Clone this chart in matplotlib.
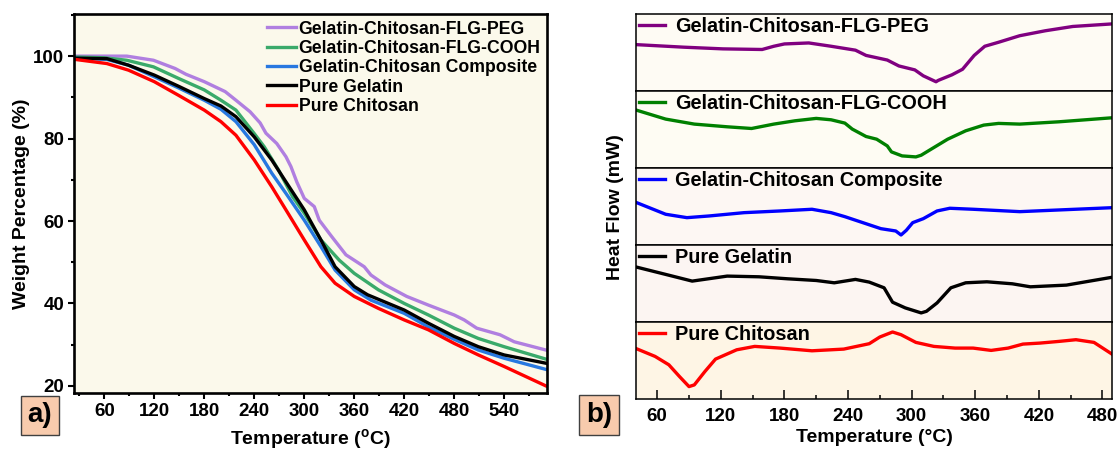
import numpy as np
import matplotlib.pyplot as plt
from matplotlib.ticker import MultipleLocator

plt.rcParams['font.family'] = ['Liberation Sans', 'DejaVu Sans']
plt.rcParams['font.weight'] = 'bold'
plt.rcParams['axes.labelweight'] = 'bold'
plt.rcParams['mathtext.fontset'] = 'custom'
plt.rcParams['mathtext.rm'] = 'Liberation Sans:bold'
plt.rcParams['mathtext.bf'] = 'Liberation Sans:bold'

# ---- panel a : TGA ----
peg_t = [25, 60, 87, 119, 145, 158, 180, 205, 218, 235, 247, 254, 267, 278, 284, 291, 300,
         312, 318, 333, 350, 372, 380, 397, 423, 449, 480, 492, 507, 535, 552, 590]
peg_w = [100, 100, 100, 99.0, 97.0, 95.6, 93.8, 91.4, 89.3, 86.5, 83.8, 81.3, 78.8, 75.6, 73.2, 69.5, 65.5,
         63.5, 60.2, 56.2, 51.8, 48.9, 46.9, 44.5, 41.7, 39.6, 37.2, 36.0, 34.0, 32.4, 30.7, 28.7]

cooh_t = [25, 60, 87, 119, 149, 180, 200, 218, 240, 252, 269, 286, 300, 320, 342, 360, 389,
          420, 449, 480, 509, 540, 590]
cooh_w = [99.8, 99.6, 99.0, 97.4, 94.6, 91.8, 89.3, 86.9, 81.2, 78.0, 72.4, 65.9, 61.9, 55.4, 50.5, 47.3, 43.3,
          40.0, 37.2, 34.0, 31.5, 29.5, 26.5]

comp_t = [25, 63, 89, 120, 149, 180, 200, 218, 240, 261, 278, 300, 320, 337, 360, 380,
          420, 449, 480, 509, 540, 590]
comp_w = [99.5, 99.2, 97.8, 95.0, 92.3, 89.3, 87.1, 84.1, 78.5, 71.6, 66.7, 60.2, 53.8, 48.1, 43.3, 40.8,
          37.6, 34.3, 31.3, 28.7, 26.7, 24.0]

gel_t = [25, 63, 89, 120, 149, 180, 200, 218, 240, 261, 278, 300, 320, 337, 360, 376,
         420, 449, 480, 509, 540, 590]
gel_w = [99.5, 99.4, 97.8, 95.4, 92.7, 89.7, 87.9, 85.3, 80.4, 74.8, 69.5, 62.7, 55.4, 48.9, 44.1, 42.1,
         38.4, 35.2, 32.0, 29.5, 27.5, 25.5]

chi_t = [25, 63, 89, 120, 149, 180, 200, 218, 240, 261, 278, 300, 320, 337, 360, 389,
         420, 449, 480, 509, 540, 590]
chi_w = [99.2, 98.2, 96.6, 93.8, 90.5, 86.9, 84.1, 80.8, 74.8, 68.3, 62.7, 55.4, 48.9, 44.9, 41.7, 38.8,
         36.0, 33.6, 30.3, 27.5, 24.7, 20.0]

tga_labels = ['Gelatin-Chitosan-FLG-PEG', 'Gelatin-Chitosan-FLG-COOH', 'Gelatin-Chitosan Composite',
              'Pure Gelatin', 'Pure Chitosan']
tga_colors = ['#B07FE0', '#3AAA6A', '#2878E0', '#000000', '#FF0000']

# ---- panel b : DSC (relative heat flow inside each strip, 0 = bottom, 1 = top) ----
dsc_labels = tga_labels
dsc_colors = ['#800080', '#008000', '#0000FF', '#000000', '#FF0000']

dsc_peg_t = [39, 85, 122, 159, 170, 180, 203, 224, 247, 257, 277, 288, 303, 311, 323, 325, 328,
             338, 348, 359, 369, 382, 402, 426, 452, 490]
dsc_peg_h = [0.607, 0.573, 0.551, 0.543, 0.585, 0.615, 0.628, 0.585, 0.534, 0.466, 0.406, 0.329, 0.278,
             0.201, 0.124, 0.141, 0.158, 0.214, 0.286, 0.466, 0.585, 0.637, 0.722, 0.786, 0.842, 0.876]

dsc_cooh_t = [39, 68, 95, 126, 149, 170, 190, 210, 224, 237, 244, 257, 267, 277, 281, 291, 304,
              309, 321, 334, 351, 368, 382, 402, 439, 490]
dsc_cooh_h = [0.761, 0.639, 0.574, 0.539, 0.517, 0.574, 0.617, 0.648, 0.630, 0.587, 0.509, 0.413, 0.378,
              0.291, 0.213, 0.161, 0.148, 0.170, 0.270, 0.378, 0.487, 0.561, 0.583, 0.574, 0.604, 0.657]

dsc_comp_t = [39, 68, 88, 109, 142, 176, 206, 224, 237, 254, 271, 285, 290, 295, 301, 311, 324,
              336, 358, 402, 439, 490]
dsc_comp_h = [0.563, 0.403, 0.359, 0.381, 0.424, 0.446, 0.468, 0.424, 0.372, 0.294, 0.216, 0.186, 0.134,
              0.195, 0.294, 0.346, 0.446, 0.481, 0.468, 0.437, 0.459, 0.489]

dsc_gel_t = [39, 68, 93, 126, 156, 183, 210, 227, 247, 260, 274, 282, 294, 309, 314, 324, 337,
             351, 371, 395, 412, 446, 490]
dsc_gel_h = [0.722, 0.622, 0.535, 0.600, 0.591, 0.565, 0.543, 0.513, 0.557, 0.522, 0.448, 0.261, 0.187,
             0.122, 0.143, 0.252, 0.448, 0.513, 0.526, 0.500, 0.461, 0.483, 0.587]

dsc_chi_t = [39, 58, 71, 81, 90, 95, 105, 115, 135, 152, 176, 206, 236, 260, 270, 282, 290, 304,
             321, 341, 358, 375, 391, 405, 421, 439, 455, 472, 490]
dsc_chi_h = [0.665, 0.557, 0.448, 0.296, 0.165, 0.187, 0.361, 0.522, 0.643, 0.687, 0.665, 0.630, 0.652,
             0.722, 0.809, 0.874, 0.839, 0.739, 0.687, 0.665, 0.665, 0.635, 0.665, 0.717, 0.730, 0.752,
             0.774, 0.739, 0.578]

strip_bg = ['#FEFBF4', '#FEFCF3', '#FDF7F3', '#FCF5F2', '#FEF5E5']

W, H = 1118, 450
fig = plt.figure(figsize=(W / 100, H / 100), dpi=100)

# panel a
axa = fig.add_axes([74 / W, 1 - 393.3 / H, (546.7 - 74) / W, (393.3 - 14.5) / H])
axa.set_facecolor('#FBF9EB')
tga_t = [peg_t, cooh_t, comp_t, gel_t, chi_t]
tga_w = [peg_w, cooh_w, comp_w, gel_w, chi_w]
for t, w, c, lab in zip(tga_t, tga_w, tga_colors, tga_labels):
    axa.plot(t, w, color=c, lw=2.4, label=lab, solid_joinstyle='round')
axa.set_xlim(23.6, 591)
axa.set_ylim(18.2, 110.1)
axa.xaxis.set_major_locator(MultipleLocator(60))
axa.xaxis.set_minor_locator(MultipleLocator(30))
axa.yaxis.set_major_locator(MultipleLocator(20))
axa.yaxis.set_minor_locator(MultipleLocator(10))
axa.tick_params(which='major', direction='out', length=4, width=1.5, labelsize=13.5, pad=3)
axa.tick_params(which='minor', direction='out', length=2.5, width=1.5)
for s in axa.spines.values():
    s.set_linewidth(1.9)
axa.set_xlabel('Temperature ($^{\\mathrm{o}}$C)', fontsize=14, labelpad=5)
axa.set_ylabel('Weight Percentage (%)', fontsize=14, labelpad=2)
axa.legend(loc='upper right', frameon=False, fontsize=12.7, handlelength=1.64, handletextpad=0.17,
           labelspacing=0.13, borderpad=0.1, borderaxespad=0.25)
for lbl in axa.get_xticklabels() + axa.get_yticklabels():
    lbl.set_fontweight('bold')

# panel b
left_b, right_b, top_b, bot_b = 636, 1112, 14.3, 399.3
strip_h = (bot_b - top_b) / 5
dsc_t = [dsc_peg_t, dsc_cooh_t, dsc_comp_t, dsc_gel_t, dsc_chi_t]
dsc_h = [dsc_peg_h, dsc_cooh_h, dsc_comp_h, dsc_gel_h, dsc_chi_h]
axes_b = []
for i in range(5):
    y_top = top_b + i * strip_h
    ax = fig.add_axes([left_b / W, 1 - (y_top + strip_h) / H, (right_b - left_b) / W, strip_h / H])
    ax.set_facecolor(strip_bg[i])
    ax.plot(dsc_t[i], dsc_h[i], color=dsc_colors[i], lw=2.4, label=dsc_labels[i], solid_joinstyle='round')
    ax.set_xlim(40, 489)
    ax.set_ylim(0, 1)
    ax.set_yticks([])
    for s in ax.spines.values():
        s.set_linewidth(1.1)
    ax.legend(loc='upper left', frameon=False, fontsize=14.3, handlelength=1.3, handletextpad=0.5,
              borderpad=0.1, borderaxespad=0.05)
    if i < 4:
        ax.set_xticks([])
    axes_b.append(ax)

axb = axes_b[-1]
axb.xaxis.set_major_locator(MultipleLocator(60))
axb.xaxis.set_minor_locator(MultipleLocator(30))
axb.tick_params(which='major', direction='in', length=6.5, width=1.1, labelsize=13.5, pad=6)
axb.tick_params(which='minor', direction='in', length=3, width=1.1)
for lbl in axb.get_xticklabels():
    lbl.set_fontweight('bold')
axb.set_xlabel('Temperature (°C)', fontsize=14, labelpad=3)
axes_b[2].set_ylabel('Heat Flow (mW)', fontsize=14, labelpad=9)

box = dict(boxstyle='square,pad=0.25', facecolor='#F8CBAD', edgecolor='#404040', lw=1)
fig.text(40 / W, 1 - 415.5 / H, 'a)', fontsize=20, ha='center', va='center', bbox=box)
fig.text(599 / W, 1 - 415 / H, 'b)', fontsize=20, ha='center', va='center', bbox=box)

fig.savefig('out.png', dpi=100)
